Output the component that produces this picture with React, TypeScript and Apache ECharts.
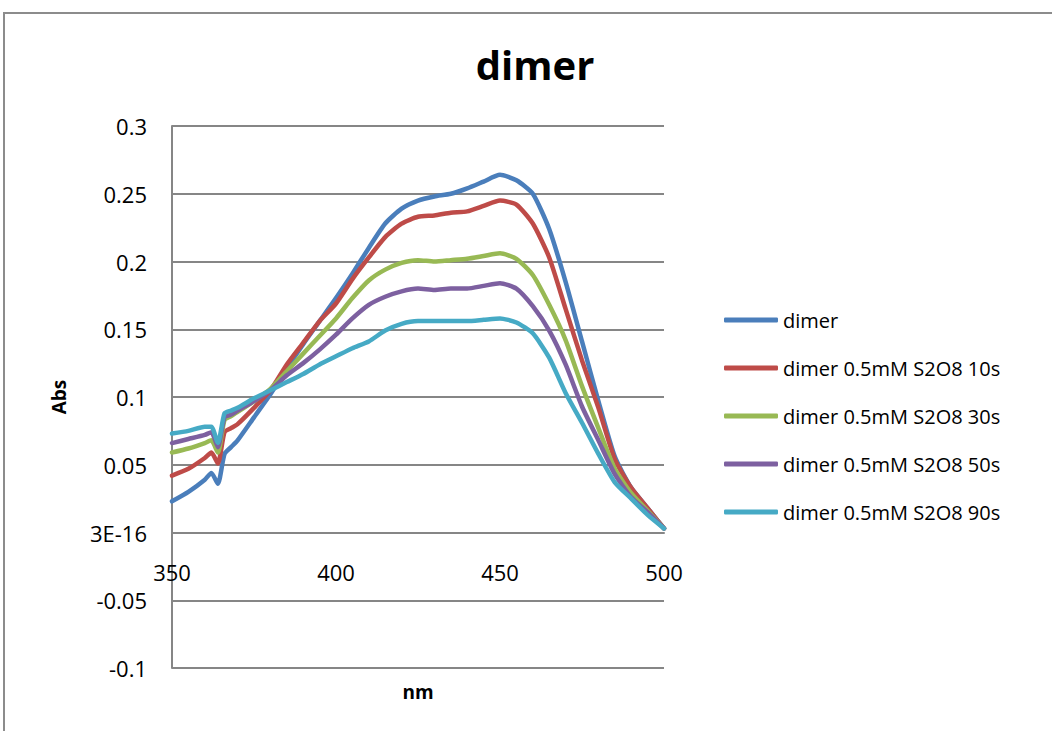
import React, { useEffect, useRef } from "react";
import * as echarts from "echarts";

const wavelengths = [350, 355, 360, 362, 364, 366, 368, 370, 375, 380, 385, 390, 395, 400, 405, 410, 415, 420, 425, 430, 435, 440, 445, 450, 455, 460, 465, 470, 475, 480, 485, 490, 495, 500];

const dimer = [0.023, 0.030, 0.039, 0.044, 0.036, 0.058, 0.063, 0.068, 0.085, 0.102, 0.121, 0.139, 0.156, 0.173, 0.191, 0.210, 0.228, 0.239, 0.245, 0.248, 0.250, 0.254, 0.259, 0.264, 0.260, 0.250, 0.224, 0.185, 0.141, 0.097, 0.056, 0.033, 0.018, 0.003];
const s10 = [0.042, 0.047, 0.055, 0.059, 0.051, 0.074, 0.077, 0.080, 0.092, 0.105, 0.124, 0.140, 0.156, 0.169, 0.187, 0.203, 0.218, 0.228, 0.233, 0.234, 0.236, 0.237, 0.241, 0.245, 0.242, 0.228, 0.203, 0.165, 0.127, 0.092, 0.054, 0.033, 0.018, 0.003];
const s30 = [0.059, 0.062, 0.066, 0.068, 0.059, 0.083, 0.086, 0.089, 0.097, 0.106, 0.119, 0.132, 0.145, 0.158, 0.173, 0.186, 0.194, 0.199, 0.201, 0.200, 0.201, 0.202, 0.204, 0.206, 0.202, 0.190, 0.168, 0.142, 0.108, 0.077, 0.047, 0.029, 0.016, 0.003];
const s50 = [0.066, 0.069, 0.072, 0.074, 0.063, 0.085, 0.087, 0.090, 0.097, 0.105, 0.116, 0.125, 0.135, 0.146, 0.158, 0.168, 0.174, 0.178, 0.180, 0.179, 0.180, 0.180, 0.182, 0.184, 0.180, 0.167, 0.149, 0.124, 0.093, 0.068, 0.043, 0.026, 0.015, 0.003];
const s90 = [0.073, 0.075, 0.078, 0.078, 0.066, 0.088, 0.090, 0.092, 0.099, 0.105, 0.111, 0.117, 0.124, 0.130, 0.136, 0.141, 0.149, 0.154, 0.156, 0.156, 0.156, 0.156, 0.157, 0.158, 0.155, 0.147, 0.129, 0.103, 0.081, 0.058, 0.037, 0.025, 0.013, 0.003];

const seriesNames = ["dimer", "dimer 0.5mM S2O8 10s", "dimer 0.5mM S2O8 30s", "dimer 0.5mM S2O8 50s", "dimer 0.5mM S2O8 90s"];
const seriesValues = [dimer, s10, s30, s50, s90];
const colors = ["#4A7EBB", "#BE4B48", "#98B954", "#7D60A0", "#46AAC5"];

const FONT = '"Open Sans", "Noto Sans", sans-serif';

const GRID_TOP = 126;
const GRID_HEIGHT = 542;
const Y_MIN = -0.1;
const Y_MAX = 0.3;
// distance (px) from the bottom of the plot up to the y = 0 line
const zeroOffset = (GRID_HEIGHT * (0 - Y_MIN)) / (Y_MAX - Y_MIN);

export default function App() {
  const ref = useRef<HTMLDivElement>(null);
  useEffect(() => {
    if (!ref.current) return;
    const chart = echarts.init(ref.current, null, { renderer: "svg" });
    chart.setOption({
      animation: false,
      backgroundColor: "#ffffff",
      textStyle: { fontFamily: FONT },
      graphic: [
        {
          type: "rect",
          shape: { x: 4, y: 13, width: 1200, height: 900 },
          style: { fill: "none", stroke: "#8c8c8c", lineWidth: 2 },
          silent: true,
        },
        {
          type: "text",
          x: 535,
          y: 64,
          style: {
            text: "dimer",
            font: `bold 40px ${FONT}`,
            fill: "#000",
            textAlign: "center",
            textVerticalAlign: "middle",
          },
        },
      ],
      legend: {
        orient: "vertical",
        left: 724,
        top: 308,
        padding: 0,
        itemWidth: 54,
        itemHeight: 5,
        itemGap: 24,
        icon: "roundRect",
        textStyle: { fontSize: 20, lineHeight: 24, color: "#000", fontFamily: FONT },
        data: seriesNames,
      },
      grid: { left: 172, top: GRID_TOP, width: 492, height: GRID_HEIGHT, containLabel: false, outerBoundsMode: "none" },
      xAxis: {
        type: "value",
        min: 350,
        max: 500,
        interval: 50,
        position: "bottom",
        offset: -zeroOffset,
        name: "nm",
        nameLocation: "middle",
        nameGap: 150,
        nameTextStyle: { fontSize: 19, fontWeight: "bold", color: "#000", fontFamily: FONT },
        axisLine: { onZero: false, lineStyle: { color: "#868686", width: 2 } },
        axisTick: { show: false },
        splitLine: { show: false },
        axisLabel: { fontSize: 22, color: "#000", margin: 28, fontFamily: FONT },
      },
      yAxis: {
        type: "value",
        min: Y_MIN,
        max: Y_MAX,
        interval: 0.05,
        name: "Abs",
        nameLocation: "middle",
        nameRotate: 90,
        nameGap: 104,
        nameTextStyle: { fontSize: 19, fontWeight: "bold", color: "#000", fontFamily: FONT },
        axisLine: { show: true, onZero: false, lineStyle: { color: "#868686", width: 2 } },
        axisTick: { show: false },
        splitLine: { show: true, lineStyle: { color: "#868686", width: 2 } },
        axisLabel: {
          fontSize: 22,
          color: "#000",
          margin: 25,
          fontFamily: FONT,
          formatter: (v: number) => {
            const r = parseFloat(v.toFixed(2));
            return r === 0 ? "3E-16" : String(r);
          },
        },
      },
      series: seriesNames.map((name, i) => ({
        name,
        type: "line",
        showSymbol: false,
        symbol: "none",
        smooth: 0.2,
        data: wavelengths.map((w, j) => [w, seriesValues[i][j]]),
        lineStyle: { color: colors[i], width: 4.5, cap: "round", join: "round" },
        itemStyle: { color: colors[i] },
      })),
    });
    return () => chart.dispose();
  }, []);
  return (
    <div
      ref={ref}
      style={{ position: "fixed", left: 0, top: 0, width: 1052, height: 731 }}
    />
  );
}
